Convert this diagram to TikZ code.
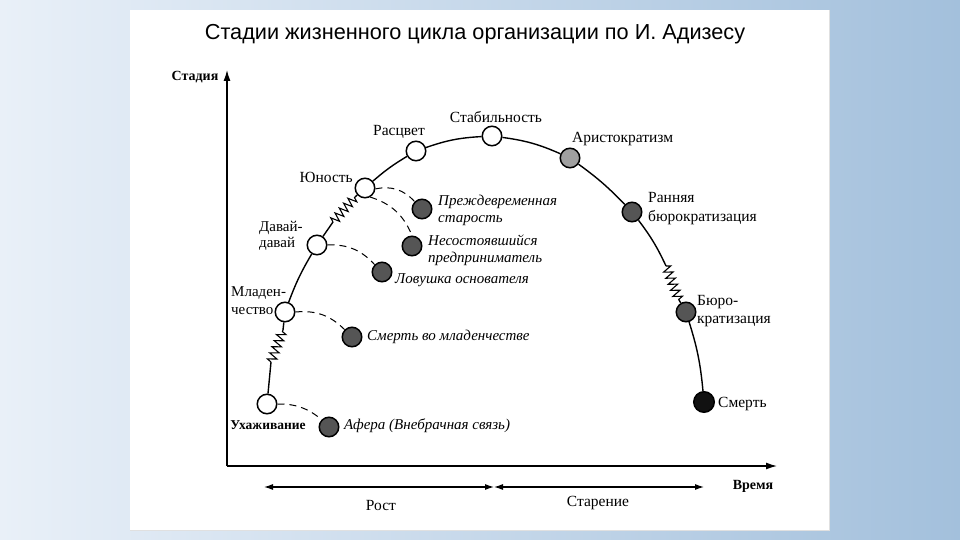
\documentclass[tikz,border=0pt]{standalone}
\usepackage{fontspec}
\setmainfont{Liberation Serif}
\newfontfamily\titlefont{Liberation Sans}
\usetikzlibrary{arrows.meta,decorations.pathmorphing}
\definecolor{bgL}{HTML}{E9F0F8}
\definecolor{bgR}{HTML}{A3C0DC}
\definecolor{midgrey}{HTML}{A0A0A0}
\definecolor{darkgrey}{HTML}{555555}
\definecolor{nearblack}{HTML}{111111}
\tikzset{
  st/.style={circle, draw=black, line width=1.5pt, minimum size=19.5pt, inner sep=0pt, fill=white},
  stgrey/.style={st, fill=midgrey},
  stdark/.style={st, fill=darkgrey},
  stblack/.style={st, fill=nearblack, minimum size=20.5pt},
  lbl/.style={font=\fontsize{15.5}{16}\selectfont, inner sep=0pt},
  blbl/.style={font=\fontsize{14}{15}\selectfont\bfseries, inner sep=0pt},
  ilbl/.style={font=\fontsize{15}{17}\selectfont\itshape, inner sep=0pt, anchor=west, align=left},
  curve/.style={line width=1.4pt},
  dsh/.style={dash pattern=on 7pt off 5pt, line width=1pt},
  spring/.style={decorate, decoration={zigzag, amplitude=4.5pt, segment length=6.5pt}, line width=1.1pt},
  axis/.style={line width=1.3pt, -{Latex[length=11pt,width=7pt]}},
  span/.style={line width=1.1pt, {Latex[length=9pt,width=6pt]}-{Latex[length=9pt,width=6pt]}}
}
\begin{document}
\begin{tikzpicture}[x=1pt,y=-1pt]
\useasboundingbox (0,0) rectangle (960,540);
\shade[left color=bgL, right color=bgR] (0,0) rectangle (960,540);
\fill[white] (130,10) rectangle (829,530);
\draw[black!12, line width=0.8pt] (829,10) -- (829,530) -- (130,530);

\node[font=\titlefont\fontsize{21.7}{23}\selectfont] (title) at (475,34) {Стадии жизненного цикла организации по И. Адизесу};

% axes
\coordinate (origin) at (227,466);
\coordinate (ytip) at (227,70);
\coordinate (xtip) at (777,466);
\draw[axis] (origin) -- (ytip);
\draw[axis] (origin) -- (xtip);
\node[blbl] (ylab) at (195,77) {Стадия};
\node[blbl] (xlab) at (753,486) {Время};

\coordinate (g1) at (264,487);
\coordinate (g2) at (494,487);
\coordinate (g3) at (704,487);
\draw[span] (g1) -- (g2);
\draw[span] (g2) -- (g3);
\node[lbl] (rost) at (381,505) {Рост};
\node[lbl] (star) at (598,503) {Старение};

% stage circles
\node[st] (uh) at (267,404) {};
\node[st] (ml) at (285,312) {};
\node[st] (dd) at (317,245) {};
\node[st] (yu) at (365,188) {};
\node[st] (ra) at (416,151) {};
\node[st] (sb) at (492,136) {};
\node[stgrey] (ar) at (570,158) {};
\node[stdark] (rb) at (632,212) {};
\node[stdark] (bu) at (686,312) {};
\node[stblack] (sm) at (704,402) {};

% traps
\node[stdark] (af) at (329,427) {};
\node[stdark] (smm) at (352,337) {};
\node[stdark] (lov) at (382,272) {};
\node[stdark] (nes) at (412,246) {};
\node[stdark] (pre) at (422,209) {};

% main curve
\coordinate (s1a) at (271,362);
\coordinate (s1b) at (283,330);
\coordinate (s2a) at (333,222);
\coordinate (s2b) at (355,197);
\coordinate (s3a) at (666,266);
\coordinate (s3b) at (679,300);
\draw[curve] (uh) -- (s1a);
\draw[spring] (s1a) -- (s1b);
\draw[curve] (s1b) -- (ml);
\draw[curve] (ml) to[bend left=5] (dd);
\draw[curve] (dd) -- (s2a);
\draw[spring] (s2a) -- (s2b);
\draw[curve] (s2b) -- (yu);
\draw[curve] (yu) to[bend left=5] (ra);
\draw[curve] (ra) to[bend left=8] (sb);
\draw[curve] (sb) to[bend left=8] (ar);
\draw[curve] (ar) to[bend left=5] (rb);
\draw[curve] (rb) to[bend left=6] (s3a);
\draw[spring] (s3a) -- (s3b);
\draw[curve] (s3b) -- (bu);
\draw[curve] (bu) to[bend left=6] (sm);

% dashed branches
\draw[dsh] (yu.-5) to[bend left=30] (pre.north west);
\draw[dsh] (yu.-60) to[bend left=25] (nes.north);
\draw[dsh] (dd.east) to[bend left=25] (lov.north west);
\draw[dsh] (ml.east) to[bend left=25] (smm.north west);
\draw[dsh] (uh.east) to[bend left=20] (af.north west);

% stage labels
\node[blbl, font=\fontsize{13.5}{15}\selectfont\bfseries] (uhl) at (268,425) {Ухаживание};
\node[lbl, anchor=west, align=left, font=\fontsize{15}{18}\selectfont] (mll) at (231,301) {Младен-\\чество};
\node[lbl, anchor=west, align=left, font=\fontsize{15}{16}\selectfont] (ddl) at (259,236) {Давай-\\давай};
\node[lbl, anchor=east] (yul) at (353,177) {Юность};
\node[lbl] (ral) at (399,132) {Расцвет};
\node[lbl] (sbl) at (496,117) {Стабильность};
\node[lbl, anchor=west] (arl) at (572,139) {Аристократизм};
\node[lbl, anchor=west, align=left, font=\fontsize{15.5}{19}\selectfont] (rbl) at (648,209) {Ранняя\\бюрократизация};
\node[lbl, anchor=west, align=left, font=\fontsize{15.5}{18}\selectfont] (bul) at (697,311) {Бюро-\\кратизация};
\node[lbl, anchor=west] (sml) at (718,404) {Смерть};

% trap labels
\node[ilbl] (prel) at (438,210) {Преждевременная\\старость};
\node[ilbl] (nesl) at (428,250) {Несостоявшийся\\предприниматель};
\node[ilbl] (lovl) at (395,280) {Ловушка основателя};
\node[ilbl] (smml) at (367,337) {Смерть во младенчестве};
\node[ilbl] (afl) at (344,426) {Афера (Внебрачная связь)};
\end{tikzpicture}
\end{document}
